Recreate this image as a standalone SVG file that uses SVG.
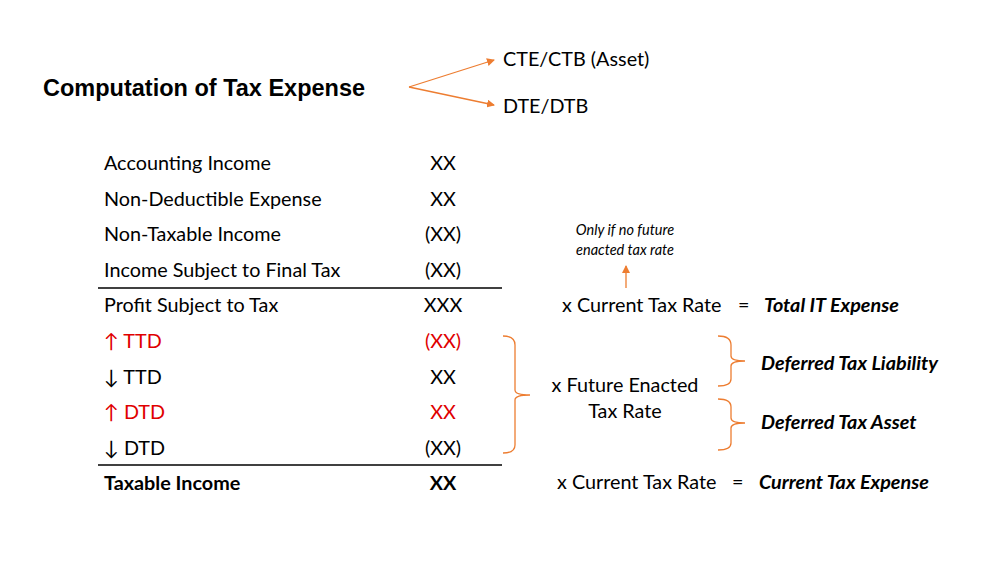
<svg xmlns="http://www.w3.org/2000/svg" width="995" height="562" viewBox="0 0 995 562">
<style>
.t{font-family:Lato,"Liberation Sans",sans-serif;font-size:19.8px;fill:#000}
.r{fill:#e00000}
.b{font-weight:bold}
.bi{font-weight:bold;font-style:italic}
.m{text-anchor:middle}
.o{stroke:#ed7d31;stroke-width:1.3;fill:none}
.ln{stroke:#000;stroke-width:1.3}
</style>
<defs><marker id="a" markerWidth="8" markerHeight="8" refX="7" refY="4" orient="auto" markerUnits="userSpaceOnUse"><path d="M0,0 L8,4 L0,8 Z" fill="#ed7d31"/></marker></defs>
<rect width="995" height="562" fill="#fff"/>
<g id="title"><text x="43" y="96" style="font-family:'Liberation Sans',Arial,sans-serif;font-size:23.5px;font-weight:bold">Computation of Tax Expense</text></g>
<g id="cte"><text class="t" x="503" y="66">CTE/CTB (Asset)</text></g>
<g id="dte"><text class="t" x="503" y="113">DTE/DTB</text></g>
<g id="rows">
<text class="t" x="104" y="170">Accounting Income</text><text class="t m" x="443" y="170">XX</text>
<text class="t" x="104" y="206">Non-Deductible Expense</text><text class="t m" x="443" y="206">XX</text>
<text class="t" x="104" y="241">Non-Taxable Income</text><text class="t m" x="443" y="241">(XX)</text>
<text class="t" x="104" y="277">Income Subject to Final Tax</text><text class="t m" x="443" y="277">(XX)</text>
<text class="t" x="104" y="312">Profit Subject to Tax</text><text class="t m" x="443" y="312">XXX</text>
<text class="t r" x="104" y="348">↑ TTD</text><text class="t m r" x="443" y="348">(XX)</text>
<text class="t" x="104" y="384">↓ TTD</text><text class="t m" x="443" y="384">XX</text>
<text class="t r" x="104" y="419">↑ DTD</text><text class="t m r" x="443" y="419">XX</text>
<text class="t" x="104" y="455">↓ DTD</text><text class="t m" x="443" y="455">(XX)</text>
<text class="t b" x="104" y="490">Taxable Income</text><text class="t m b" x="443" y="490">XX</text>
<line class="ln" x1="98" y1="288" x2="502" y2="288"/>
<line class="ln" x1="98" y1="465" x2="502" y2="465"/>
</g>
<g id="note"><text class="t m" x="625" y="235" style="font-size:14.5px;font-style:italic">Only if no future</text><text class="t m" x="625" y="255" style="font-size:14.5px;font-style:italic">enacted tax rate</text></g>
<g id="rates">
<text class="t" x="562" y="312">x Current Tax Rate</text><text class="t" x="738" y="312">=</text>
<text class="t bi" x="764" y="312">Total IT Expense</text>
<text class="t m" x="625" y="392">x Future Enacted</text>
<text class="t m" x="625" y="418">Tax Rate</text>
<text class="t bi" x="761" y="370">Deferred Tax Liability</text>
<text class="t bi" x="761" y="429">Deferred Tax Asset</text>
<text class="t" x="557" y="489">x Current Tax Rate</text><text class="t" x="732" y="489">=</text>
<text class="t bi" x="759" y="489">Current Tax Expense</text>
</g>
<g id="connectors">
<path class="o" d="M409,87 L494,60" marker-end="url(#a)"/>
<path class="o" d="M409,87 L494,105" marker-end="url(#a)"/>
<path class="o" d="M626,288 L626,266" marker-end="url(#a)"/>
<path class="o" d="M503,336 Q515,336 515,345 L515,390 Q515,395 530,395 Q515,395 515,400 L515,445 Q515,453 503,453"/>
<path class="o" d="M718,336 Q731,336 731,345 L731,356 Q731,361 745,361 Q731,361 731,366 L731,379 Q731,386 718,386"/>
<path class="o" d="M718,399 Q731,399 731,407 L731,418 Q731,423 745,423 Q731,423 731,428 L731,443 Q731,450 718,450"/>
</g>
</svg>
